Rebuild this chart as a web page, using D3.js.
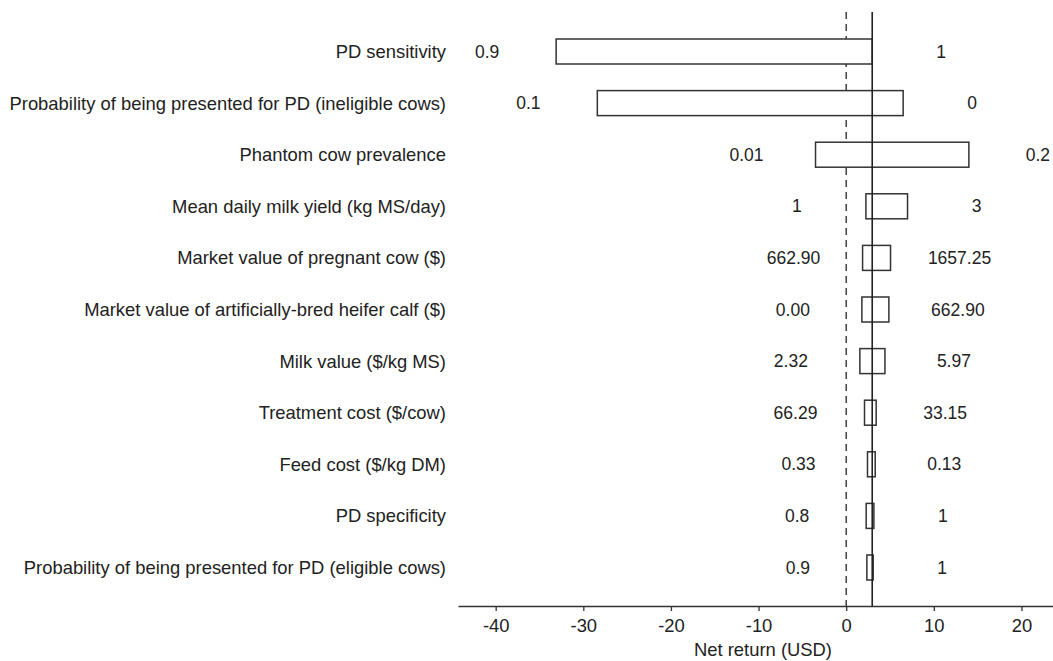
<!DOCTYPE html>
<html>
<head>
<meta charset="utf-8">
<script src="https://cdn.jsdelivr.net/npm/d3@7"></script>
<style>
  body { margin: 0; background: #fff; }
  svg text { font-family: "Liberation Sans", Arial, sans-serif; fill: #222; }
</style>
</head>
<body>
<svg id="chart" width="1053" height="661"></svg>
<script>
// tornado chart of net return sensitivity

var parameters = [
  "PD sensitivity",
  "Probability of being presented for PD (ineligible cows)",
  "Phantom cow prevalence",
  "Mean daily milk yield (kg MS/day)",
  "Market value of pregnant cow ($)",
  "Market value of artificially-bred heifer calf ($)",
  "Milk value ($/kg MS)",
  "Treatment cost ($/cow)",
  "Feed cost ($/kg DM)",
  "PD specificity",
  "Probability of being presented for PD (eligible cows)"
];

// net return at the low and high ends of each bar
var lowReturn  = [-33.1, -28.4, -3.5, 2.25, 1.87, 1.79, 1.56, 2.09, 2.43, 2.28, 2.36];
var highReturn = [2.97, 6.5, 14.0, 7.0, 5.06, 4.87, 4.42, 3.42, 3.31, 3.16, 3.08];

// parameter values printed beside each bar
var lowLabels  = ["0.9", "0.1", "0.01", "1", "662.90", "0.00", "2.32", "66.29", "0.33", "0.8", "0.9"];
var highLabels = ["1", "0", "0.2", "3", "1657.25", "662.90", "5.97", "33.15", "0.13", "1", "1"];

var baseReturn = 2.97;
var xTicks = [-40, -30, -20, -10, 0, 10, 20];

var svg = d3.select("#chart");

var x = d3.scaleLinear()
    .domain([-44.3, 23.6])
    .range([458, 1053]);

var y = d3.scalePoint()
    .domain(parameters)
    .range([51.5, 567.5]);

var barHeight = 25;
var labelGap = 69;
var axisY = 606;

// reference lines
svg.append("line")
    .attr("x1", x(0)).attr("x2", x(0))
    .attr("y1", 12).attr("y2", axisY)
    .attr("stroke", "#333")
    .attr("stroke-width", 1.4)
    .attr("stroke-dasharray", "7,5");

var rows = svg.append("g").selectAll("g.row")
    .data(parameters)
  .enter().append("g")
    .attr("class", "row");

rows.append("rect")
    .attr("x", function(d, i) { return x(lowReturn[i]); })
    .attr("y", function(d) { return y(d) - barHeight / 2; })
    .attr("width", function(d, i) { return x(highReturn[i]) - x(lowReturn[i]); })
    .attr("height", barHeight)
    .attr("fill", "#fff")
    .attr("stroke", "#333")
    .attr("stroke-width", 1.5);

svg.append("line")
    .attr("x1", x(baseReturn)).attr("x2", x(baseReturn))
    .attr("y1", 12).attr("y2", axisY)
    .attr("stroke", "#222")
    .attr("stroke-width", 1.6);

rows.append("text")
    .attr("x", 446)
    .attr("y", function(d) { return y(d); })
    .attr("dy", "0.35em")
    .attr("text-anchor", "end")
    .style("font-size", "18.4px")
    .text(function(d) { return d; });

rows.append("text")
    .attr("x", function(d, i) { return x(lowReturn[i]) - labelGap; })
    .attr("y", function(d) { return y(d); })
    .attr("dy", "0.35em")
    .attr("text-anchor", "middle")
    .style("font-size", "17.5px")
    .text(function(d, i) { return lowLabels[i]; });

rows.append("text")
    .attr("x", function(d, i) { return x(highReturn[i]) + labelGap; })
    .attr("y", function(d) { return y(d); })
    .attr("dy", "0.35em")
    .attr("text-anchor", "middle")
    .style("font-size", "17.5px")
    .text(function(d, i) { return highLabels[i]; });

// x axis
var xAxis = svg.append("g")
    .attr("transform", "translate(0," + axisY + ")")
    .call(d3.axisBottom(x)
      .tickValues(xTicks)
      .tickFormat(function(d) { return String(d); })
      .tickSize(5).tickSizeOuter(0).tickPadding(8));

xAxis.select(".domain").attr("stroke", "#333").attr("stroke-width", 1.5);
xAxis.selectAll(".tick line").attr("stroke", "#333").attr("stroke-width", 1.3);
xAxis.selectAll(".tick text")
    .style("font-size", "18.4px")
    .style("font-family", "'Liberation Sans', Arial, sans-serif")
    .attr("fill", "#222");

svg.append("text")
    .attr("x", 763)
    .attr("y", 656)
    .attr("text-anchor", "middle")
    .style("font-size", "18.4px")
    .text("Net return (USD)");
</script>
</body>
</html>
